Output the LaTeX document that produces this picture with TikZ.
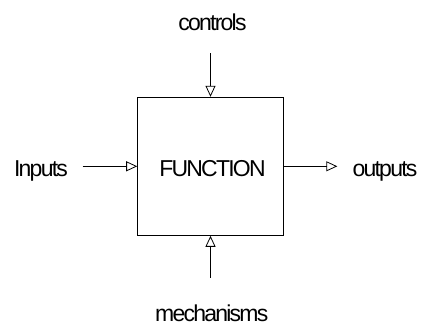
\documentclass[tikz,border=0pt]{standalone}
\usepackage{fontspec}
\setmainfont[LetterSpace=-7.7]{Liberation Sans}
\usetikzlibrary{arrows.meta}
\tikzset{
  lbl/.style={font=\fontsize{23}{25}\selectfont, inner sep=0pt, anchor=base},
  fnbox/.style={draw, line width=1pt, minimum width=145.6pt, minimum height=138pt, inner sep=0pt},
  flow/.style={line width=0.8pt, -{Triangle[open, length=11pt, width=10pt, line width=0.8pt]}}
}
\begin{document}
\begin{tikzpicture}[x=1pt,y=-1pt]
\useasboundingbox (0,0) rectangle (421,326);
\node[fnbox] (fn) at (210.5,166.3) {};
\node[lbl] (fntext) at (212.5,176.5) {FUNCTION};
\node[lbl] (controls) at (212.5,30.5) {controls};
\node[lbl] (inputs) at (41,176.3) {Inputs};
\node[lbl] (outputs) at (385,176.3) {outputs};
\node[lbl] (mech) at (211.7,321.3) {mechanisms};
\coordinate (cin) at (210.5,53.3);
\coordinate (iin) at (82.7,166.3);
\coordinate (oout) at (337.3,166.3);
\coordinate (min) at (210.5,278);
\draw[flow] (cin) -- (fn.north);
\draw[flow] (iin) -- (fn.west);
\draw[flow] (fn.east) -- (oout);
\draw[flow] (min) -- (fn.south);
\end{tikzpicture}
\end{document}
